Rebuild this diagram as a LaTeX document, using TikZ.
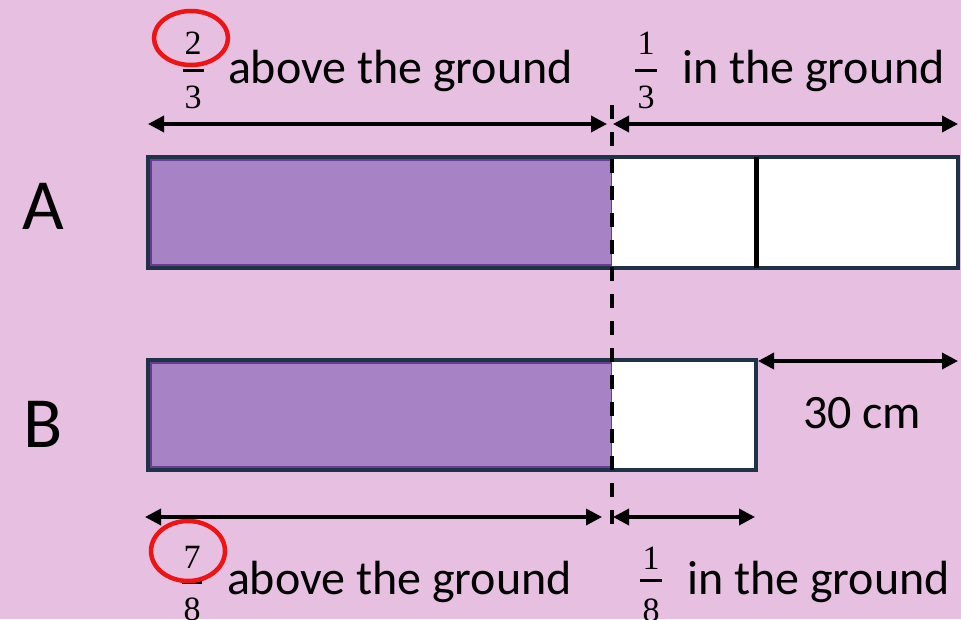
\documentclass[tikz,border=0pt]{standalone}
\usepackage{fontspec}
\setmainfont{Carlito}
\newfontfamily\fracfont{Liberation Serif}
\usepackage{xcolor}
\usetikzlibrary{arrows.meta,positioning,calc,shapes.geometric}

\definecolor{bgpink}{RGB}{230,191,225}
\definecolor{barpurple}{RGB}{167,130,196}
\definecolor{purpleedge}{RGB}{105,62,146}
\definecolor{barrim}{RGB}{30,50,72}
\definecolor{ringred}{RGB}{238,20,20}

\tikzset{
    dimarrow/.style={{Triangle[length=16pt,width=16pt]}-{Triangle[length=16pt,width=16pt]}, line width=3.5pt},
    rimline/.style={draw=barrim, line width=3.5pt},
    groundline/.style={line width=4pt, dash pattern=on 14pt off 13pt},
    splitline/.style={line width=5pt},
    barlabel/.style={font=\fontsize{72}{80}\selectfont},
    saytext/.style={anchor=base west, font=\fontsize{48}{54}\selectfont},
    fracdigit/.style={font=\fracfont\fontsize{34}{38}\selectfont},
    fracbar/.style={line width=3pt},
    ring/.style={ellipse, draw=ringred, line width=4.5pt}
}

\begin{document}
\begin{tikzpicture}[x=1pt, y=-1pt, every node/.style={inner sep=0pt, outer sep=0pt}]
    \fill[bgpink] (0,0) rectangle (961,619);
    \useasboundingbox (0,0) rectangle (961,619);

    % Bar A
    \fill[barpurple] (148,157) rectangle (612,268);
    \draw[purpleedge, line width=2pt] (151,160) rectangle (612,265);
    \fill[white] (612,157) rectangle (958,268);
    \draw[rimline] (148,157) rectangle (958,268);
    \draw[splitline] (756,157) -- (756,268);

    % Bar B
    \fill[barpurple] (148,360) rectangle (612,470);
    \draw[purpleedge, line width=2pt] (151,363) rectangle (612,467);
    \fill[white] (612,360) rectangle (756,470);
    \draw[rimline] (148,360) rectangle (756,470);

    \node[barlabel] (labA) at (43,206) {A};
    \node[barlabel] (labB) at (43,424) {B};

    % ground level
    \coordinate (gtop) at (612,105);
    \coordinate (gbot) at (612,537);
    \draw[groundline] (gtop) -- (gbot);

    % Arrows
    \coordinate (tl) at (148,124);  \coordinate (tm) at (607,124);
    \coordinate (tn) at (613,124);  \coordinate (tr) at (958,124);
    \coordinate (bl) at (145,517);  \coordinate (bm) at (602,517);
    \coordinate (bn) at (613,517);  \coordinate (br) at (755,517);
    \coordinate (cl) at (758,361);  \coordinate (cr) at (958,361);
    \draw[dimarrow] (tl) -- (tm);
    \draw[dimarrow] (tn) -- (tr);
    \draw[dimarrow] (bl) -- (bm);
    \draw[dimarrow] (bn) -- (br);
    \draw[dimarrow] (cl) -- (cr);

    \node[saytext] (cm) at (803,428) {30 cm};

    % Top texts
    \node[fracdigit] (twoA) at (193,43) {2};
    \node[fracdigit] (thrA) at (193,97) {3};
    \draw[fracbar] (183,70) -- (204,70);
    \node[saytext] (aboveA) at (228,83) {above the ground};
    \node[ring, minimum width=74pt, minimum height=54pt] (ringA) at (191,38) {};

    \node[fracdigit] (oneA) at (646,43) {1};
    \node[fracdigit] (thrB) at (646,97) {3};
    \draw[fracbar] (635,70) -- (657,70);
    \node[saytext] (inA) at (682,83) {in the ground};

    % Bottom texts
    \node[fracdigit] (sevB) at (192,557) {7};
    \node[fracdigit] (eigB) at (192,609) {8};
    \draw[fracbar] (182,582) -- (202,582);
    \node[saytext] (aboveB) at (227,594) {above the ground};
    \node[ring, minimum width=74pt, minimum height=60pt] (ringB) at (188,551) {};

    \node[fracdigit] (oneB) at (651,558) {1};
    \node[fracdigit] (eigC) at (651,610) {8};
    \draw[fracbar] (640,580) -- (662,580);
    \node[saytext] (inB) at (687,594) {in the ground};
\end{tikzpicture}
\end{document}
